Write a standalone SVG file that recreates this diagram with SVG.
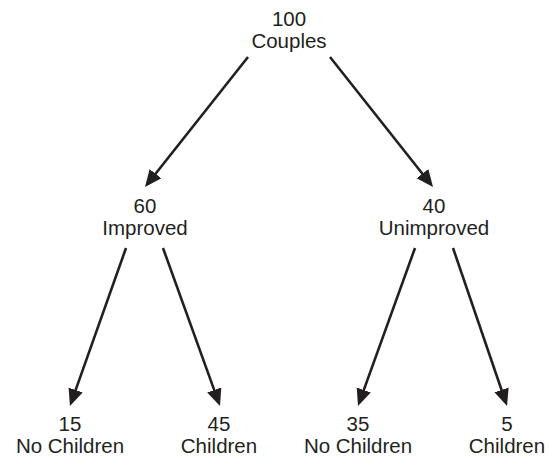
<svg xmlns="http://www.w3.org/2000/svg" width="549" height="459" viewBox="0 0 549 459">
<style>
  text { font-family: "Liberation Sans", Arial, sans-serif; font-size: 20.5px; fill: #231f20; text-anchor: middle; }
  .edge { stroke: #231f20; stroke-width: 2.6; fill: none; marker-end: url(#arrow); }
</style>
<defs>
  <marker id="arrow" markerUnits="userSpaceOnUse" markerWidth="18" markerHeight="16" refX="7" refY="7.5" orient="auto" viewBox="0 0 18 16">
    <path d="M0,0 L17,7.5 L0,15 z" fill="#231f20"/>
  </marker>
</defs>
<rect width="549" height="459" fill="#ffffff"/>
<g id="connectors">
  <line class="edge" x1="248" y1="57" x2="151.2" y2="179.2"/>
  <line class="edge" x1="330" y1="57" x2="426.8" y2="179.2"/>
  <line class="edge" x1="126" y1="248" x2="73.3" y2="396.6"/>
  <line class="edge" x1="163" y1="248" x2="216.6" y2="396.6"/>
  <line class="edge" x1="415" y1="248" x2="361.4" y2="396.6"/>
  <line class="edge" x1="453" y1="248" x2="503.8" y2="396.5"/>
</g>
<g id="root"><text x="289" y="26">100</text><text x="289" y="48">Couples</text></g>
<g id="improved"><text x="145" y="213">60</text><text x="145" y="235">Improved</text></g>
<g id="unimproved"><text x="434" y="213">40</text><text x="434" y="235">Unimproved</text></g>
<g id="imp-nochildren"><text x="70" y="431">15</text><text x="70" y="453">No Children</text></g>
<g id="imp-children"><text x="219" y="431">45</text><text x="219" y="453">Children</text></g>
<g id="unimp-nochildren"><text x="358" y="431">35</text><text x="358" y="453">No Children</text></g>
<g id="unimp-children"><text x="507" y="431">5</text><text x="507" y="453">Children</text></g>
</svg>
